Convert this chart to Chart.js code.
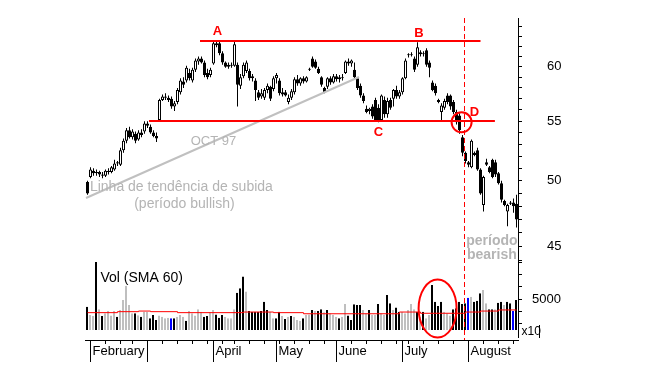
<!DOCTYPE html>
<html>
<head>
<meta charset="utf-8">
<script src="https://cdn.jsdelivr.net/npm/chart.js@4/dist/chart.umd.min.js"></script>
<style>
  html, body { margin: 0; padding: 0; background: #fff; }
  #wrap { width: 657px; height: 380px; }
</style>
</head>
<body>
<div id="wrap"><canvas id="chart" width="657" height="380"></canvas></div>
<script>
// daily prices, 30 Jan 1998 .. late Aug 1998
var opens = [49.9, 50.3, 50.8, 50.6, 50.7, 50.5, 50.4, 50.8, 50.7, 50.9,
  51.4, 51.3, 52.5, 53.3, 54.2, 53.6, 53.9, 53.4, 54.0, 54.1,
  54.8, 54.5, 54.0, 53.7, 55.1, 56.9, 57.2, 57.1, 57.0, 56.3,
  56.7, 57.6, 58.6, 58.7, 59.4, 58.7, 59.7, 60.5, 60.8, 60.4,
  59.4, 59.2, 60.3, 62.1, 62.3, 61.3, 60.4, 60.0, 60.2, 60.1,
  60.2, 58.2, 59.1, 59.6, 59.6, 58.9, 58.7, 57.6, 57.2, 57.1,
  57.8, 58.1, 57.9, 58.9, 58.7, 57.6, 57.6, 56.7, 57.1, 57.6,
  58.8, 58.4, 58.9, 58.6, 59.7, 60.8, 60.5, 59.8, 59.0, 58.0,
  58.1, 58.9, 58.5, 59.1, 58.8, 59.0, 59.4, 60.5, 60.3, 59.7,
  58.9, 58.2, 57.3, 56.1, 55.9, 56.3, 56.9, 56.2, 55.1, 56.9,
  55.6, 56.9, 57.0, 57.8, 57.2, 57.6, 58.9, 61.1, 61.2, 60.8,
  60.2, 61.4, 61.2, 61.6, 60.4, 58.5, 58.2, 56.9, 55.8, 56.2,
  57.3, 57.3, 56.7, 55.8, 55.5, 53.6, 52.3, 51.5, 51.1, 52.3,
  52.5, 50.9, 48.1, 51.5, 51.1, 51.7, 51.5, 50.6, 49.8, 48.4,
  47.6, 48.2, 48.3, 48.2];
var highs = [50.0, 51.1, 51.0, 50.9, 50.8, 50.7, 50.9, 51.0, 51.2, 51.7,
  51.6, 52.7, 53.5, 54.4, 54.5, 54.3, 54.1, 54.2, 54.3, 55.0,
  55.0, 54.7, 54.2, 54.0, 57.0, 57.4, 57.5, 57.3, 57.2, 56.8,
  58.0, 58.9, 59.0, 60.1, 59.8, 59.9, 60.8, 61.0, 61.0, 60.6,
  59.8, 59.9, 62.5, 62.6, 62.5, 61.5, 60.5, 60.4, 60.4, 62.5,
  60.4, 59.3, 60.4, 60.6, 59.8, 59.3, 58.9, 57.8, 57.9, 58.0,
  58.4, 58.2, 59.1, 59.4, 58.9, 58.0, 57.8, 57.4, 57.9, 59.0,
  59.2, 59.0, 59.1, 59.1, 59.9, 61.0, 60.7, 60.0, 59.1, 58.1,
  59.0, 59.1, 59.3, 59.3, 59.2, 59.3, 60.6, 60.8, 60.7, 60.4,
  59.0, 58.4, 57.5, 56.4, 56.2, 56.5, 57.1, 56.5, 57.4, 57.2,
  57.1, 57.1, 57.9, 58.2, 57.8, 59.0, 60.8, 61.3, 61.4, 61.0,
  62.4, 61.6, 61.5, 61.8, 60.6, 58.7, 58.4, 57.0, 56.6, 57.0,
  57.5, 57.4, 56.9, 56.0, 55.7, 53.8, 52.4, 51.6, 53.4, 52.4,
  52.7, 51.0, 50.4, 51.8, 51.2, 51.8, 51.7, 50.7, 50.0, 48.5,
  48.2, 48.4, 48.6, 48.9];
var lows = [48.9, 50.2, 50.4, 50.4, 50.3, 50.2, 50.3, 50.5, 50.6, 50.8,
  51.2, 51.2, 52.3, 53.1, 53.5, 53.4, 53.1, 53.3, 53.6, 53.9,
  54.4, 53.9, 53.6, 53.2, 55.0, 56.8, 56.9, 56.7, 56.1, 55.9,
  56.5, 57.4, 58.0, 58.5, 58.7, 58.5, 59.5, 60.2, 60.3, 59.0,
  58.8, 59.0, 60.2, 61.9, 61.1, 60.2, 59.9, 59.8, 59.9, 60.0,
  56.3, 57.9, 58.9, 59.4, 58.7, 58.6, 56.8, 56.9, 57.0, 56.9,
  57.5, 56.8, 57.7, 58.4, 57.3, 57.2, 57.2, 56.5, 56.9, 57.4,
  58.2, 58.2, 58.4, 58.5, 59.6, 59.9, 59.8, 59.3, 58.1, 57.5,
  57.9, 58.3, 58.4, 58.6, 58.5, 58.7, 59.3, 60.1, 60.0, 58.9,
  57.8, 57.1, 56.6, 55.7, 55.6, 55.2, 55.0, 54.9, 55.0, 55.3,
  55.3, 56.0, 56.3, 57.0, 57.0, 57.4, 58.8, 60.9, 61.0, 59.5,
  60.0, 61.0, 61.0, 60.0, 59.0, 57.7, 57.3, 56.6, 55.1, 56.0,
  56.5, 56.0, 55.6, 54.7, 53.9, 52.0, 51.4, 51.1, 51.0, 52.0,
  50.8, 48.9, 47.6, 51.2, 50.6, 50.2, 50.3, 49.7, 48.3, 48.0,
  46.5, 48.1, 47.5, 46.4];
var closes = [49.0, 50.9, 50.6, 50.7, 50.5, 50.4, 50.8, 50.7, 51.1, 51.4,
  51.5, 52.5, 53.3, 54.2, 53.6, 54.1, 53.3, 54.0, 53.8, 54.8,
  54.6, 54.0, 53.7, 53.5, 56.9, 57.2, 57.1, 56.9, 56.3, 56.6,
  57.8, 58.7, 58.3, 59.9, 58.9, 59.7, 60.6, 60.8, 60.4, 59.2,
  59.0, 59.7, 62.3, 62.3, 61.3, 60.4, 60.0, 60.2, 60.1, 62.2,
  58.3, 59.0, 60.2, 60.4, 58.9, 59.1, 57.8, 57.1, 57.5, 57.8,
  58.2, 57.0, 58.9, 59.2, 57.5, 57.4, 57.3, 57.1, 57.7, 58.8,
  58.4, 58.9, 58.6, 59.0, 59.8, 60.0, 59.9, 59.4, 58.3, 57.6,
  58.9, 58.5, 59.1, 58.8, 59.0, 58.9, 60.5, 60.3, 60.6, 59.0,
  58.0, 57.3, 56.8, 55.8, 56.1, 55.4, 55.1, 55.1, 57.3, 55.6,
  56.8, 56.2, 57.8, 57.2, 57.6, 58.9, 60.6, 61.2, 61.1, 59.7,
  61.9, 61.2, 61.3, 60.2, 59.9, 57.8, 57.5, 56.7, 56.4, 56.8,
  56.7, 56.3, 55.8, 54.9, 54.2, 52.3, 51.6, 51.3, 53.3, 52.1,
  50.9, 49.0, 50.3, 51.3, 50.7, 50.3, 50.5, 49.8, 48.5, 48.1,
  48.1, 48.3, 48.0, 47.0];

// volume (x10)
var volumes = [4380, 3700, 3620, 8000, 4160, 3620, 3840, 4020, 3650, 4020,
  3560, 4110, 4920, 6080, 4510, 3840, 3840, 3680, 3560, 3970,
  3970, 3430, 3700, 3290, 3650, 3560, 3430, 3480, 3430, 3430,
  3560, 3700, 3560, 3240, 4020, 3840, 3650, 4160, 3970, 3560,
  3620, 3920, 4110, 3750, 3480, 3700, 3560, 3430, 3430, 4160,
  5510, 5870, 6820, 5600, 4020, 3970, 3970, 3970, 4020, 4780,
  4110, 3970, 3430, 3430, 3970, 3620, 3370, 3560, 3620, 3560,
  3290, 3240, 3430, 3700, 3750, 4110, 4020, 4020, 4160, 3920,
  4110, 3840, 3700, 3560, 3430, 3560, 4590, 3650, 3290, 4570,
  4510, 4510, 4110, 3840, 4110, 3700, 3700, 4590, 3840, 3700,
  5330, 4650, 4110, 4300, 3970, 3970, 3840, 4110, 4590, 4160,
  3970, 3560, 3970, 3430, 3700, 6140, 4780, 4430, 4780, 3970,
  3840, 3650, 4160, 4240, 4780, 4590, 4650, 5110, 5190, 4780,
  4860, 5460, 5730, 4650, 4160, 4160, 4160, 4700, 4780, 4510,
  4780, 4650, 4020, 4920];
// k = black, g = grey, b = blue volume bar
var volTone = 'kggkgkgggg' + 'kgggggkgkg' + 'gkkkggggbk' + 'gggkgggggk' + 'kggkkkgggg' +
  'kkkgkkkkkk' + 'kggkkgkgkg' + 'ggkggkgkkg' + 'kgggkggkkk' + 'kkggkggkgg' +
  'kkgkkggggg' + 'kgkggkkkkg' + 'ggkkkkkbgk' + 'kkggkkgkkg' + 'kkbk';

// 60 day volume average, value from each listed day onward
var smaDays = [0, 10, 17, 21, 30, 52, 62, 72, 104, 111, 126, 131, 137, 143];
var smaValues = [3890, 3970, 4020, 3970, 3890, 3940, 3890, 3800, 3940, 3840, 3940, 4020, 4110, 4110];

var priceTicks = [44, 45, 46, 47, 48, 49, 50, 51, 52, 53, 54, 55, 56, 57, 58, 59, 60, 61, 62, 63, 64];
var priceLabels = [45, 50, 55, 60];
var volTicks = [3000, 4000, 5000, 6000, 7000, 8000];
var volLabels = [5000];
var monthNames = ['', 'February', '', 'April', 'May', 'June', 'July', 'August'];
var holidays = ['1998-02-16', '1998-04-10', '1998-05-25', '1998-07-03'];

var priceRange = { min: 43.91, max: 64.86 };
var volRange = { min: 2480, max: 8008 };

// trading days
var days = [];
var d = new Date(Date.UTC(1998, 0, 30));
while (days.length < closes.length) {
  var key = d.toISOString().slice(0, 10);
  var dow = d.getUTCDay();
  if (dow > 0 && dow < 6 && holidays.indexOf(key) < 0) days.push(key);
  d.setUTCDate(d.getUTCDate() + 1);
}

var tones = { k: '#000000', g: '#bfbfbf', b: '#0000ff' };
var FONT = '"Liberation Sans", Arial, sans-serif';

// annotation layer, in data units
var levels = [
  { from: 37.5, to: 131, price: 62.55 },
  { from: 20.5, to: 135.8, price: 55.0 }
];
var trend = { from: [-0.5, 48.64], to: [90.5, 59.02] };
var breakDay = 125.5;
var letters = [
  { text: 'A', day: 43.3, price: 63.5 },
  { text: 'B', day: 110.5, price: 63.27 },
  { text: 'C', day: 97, price: 54.05 },
  { text: 'D', day: 129, price: 55.77 }
];
var greyNotes = [
  { text: 'OCT 97', day: 42, price: 53.24, font: '13px ' + FONT },
  { text: 'Linha de tendência de subida', day: 31.3, price: 49.5, font: '14px ' + FONT },
  { text: '(período bullish)', day: 32.3, price: 48.18, font: '14px ' + FONT },
  { text: 'período', day: 134.8, price: 45.41, font: 'bold 14px ' + FONT },
  { text: 'bearish', day: 134.8, price: 44.37, font: 'bold 14px ' + FONT }
];

var notes = {
  id: 'notes',
  afterDatasetsDraw: function (chart) {
    var ctx = chart.ctx;
    var xs = chart.scales.x, ps = chart.scales.price, vs = chart.scales.vol;
    var area = chart.chartArea;
    var baseY = area.bottom + 10;
    ctx.save();

    // trend line
    ctx.strokeStyle = '#c0c0c0';
    ctx.lineWidth = 2;
    ctx.beginPath();
    ctx.moveTo(xs.getPixelForValue(trend.from[0]), ps.getPixelForValue(trend.from[1]));
    ctx.lineTo(xs.getPixelForValue(trend.to[0]), ps.getPixelForValue(trend.to[1]));
    ctx.stroke();

    // resistance / support
    ctx.strokeStyle = '#ff0000';
    levels.forEach(function (l) {
      var y = Math.round(ps.getPixelForValue(l.price));
      ctx.beginPath();
      ctx.moveTo(xs.getPixelForValue(l.from), y);
      ctx.lineTo(xs.getPixelForValue(l.to), y);
      ctx.stroke();
    });

    // break circle and volume ellipse
    ctx.beginPath();
    ctx.arc(xs.getPixelForValue(124.7), ps.getPixelForValue(54.9), 10, 0, Math.PI * 2);
    ctx.stroke();
    ctx.beginPath();
    ctx.ellipse(xs.getPixelForValue(116.7), vs.getPixelForValue(4230), 19, 29, 0, 0, Math.PI * 2);
    ctx.stroke();

    // dashed break day
    var bx = Math.round(xs.getPixelForValue(breakDay)) + 0.5;
    ctx.lineWidth = 1;
    ctx.setLineDash([5, 3]);
    ctx.beginPath();
    ctx.moveTo(bx, area.top);
    ctx.lineTo(bx, baseY);
    ctx.stroke();
    ctx.setLineDash([]);

    // letters
    ctx.fillStyle = '#ff0000';
    ctx.font = 'bold 13px ' + FONT;
    ctx.textAlign = 'center';
    ctx.textBaseline = 'middle';
    letters.forEach(function (n) {
      ctx.fillText(n.text, xs.getPixelForValue(n.day), ps.getPixelForValue(n.price));
    });

    ctx.fillStyle = '#b4b4b4';
    greyNotes.forEach(function (n) {
      ctx.font = n.font;
      ctx.fillText(n.text, xs.getPixelForValue(n.day), ps.getPixelForValue(n.price));
    });

    ctx.fillStyle = '#000';
    ctx.font = '14px ' + FONT;
    ctx.textAlign = 'left';
    ctx.fillText('Vol (SMA 60)', xs.getPixelForValue(4.3), vs.getPixelForValue(6710));

    // time axis
    ctx.strokeStyle = '#000';
    ctx.lineWidth = 1;
    ctx.beginPath();
    ctx.moveTo(area.left - 1, baseY + 0.5);
    ctx.lineTo(area.right + 1, baseY + 0.5);
    ctx.stroke();
    ctx.font = '13px ' + FONT;
    ctx.textBaseline = 'alphabetic';
    for (var i = 1; i < days.length; i++) {
      var cur = new Date(days[i] + 'T00:00:00Z');
      var prev = new Date(days[i - 1] + 'T00:00:00Z');
      var x = Math.floor(xs.getPixelForValue(i)) + 0.5;
      var m = cur.getUTCMonth();
      if (m !== prev.getUTCMonth()) {
        ctx.beginPath();
        ctx.moveTo(x, baseY);
        ctx.lineTo(x, baseY + 22);
        ctx.stroke();
        if (monthNames[m]) ctx.fillText(monthNames[m], x + 2, baseY + 15);
      } else if (cur.getUTCDay() < prev.getUTCDay()) {
        ctx.beginPath();
        ctx.moveTo(x, baseY);
        ctx.lineTo(x, baseY + 4);
        ctx.stroke();
      }
    }

    // x10 box under the volume axis
    var rx = Math.round(area.right) + 0.5;
    ctx.beginPath();
    ctx.moveTo(rx, area.bottom - 5);
    ctx.lineTo(rx, baseY - 2);
    ctx.moveTo(rx + 21, area.bottom - 5);
    ctx.lineTo(rx + 21, baseY - 2);
    ctx.stroke();
    ctx.font = '12px ' + FONT;
    ctx.fillText('x10', rx + 3, area.bottom + 5);

    ctx.restore();
  }
};

// the stacked right axes must not push the plot down with their label padding
function fixAxisBox(s) {
  s.width = 60;
  s.paddingTop = 0;
  s.paddingBottom = 0;
}

new Chart(document.getElementById('chart').getContext('2d'), {
  type: 'bar',
  data: {
    labels: days,
    datasets: [{
      label: 'wick',
      data: days.map(function (_, i) { return [lows[i], highs[i]]; }),
      yAxisID: 'price',
      backgroundColor: '#000',
      barThickness: 1,
      borderWidth: 0,
      inflateAmount: 0,
      grouped: false,
      order: 3
    }, {
      label: 'body',
      data: days.map(function (_, i) { return [opens[i], closes[i]]; }),
      yAxisID: 'price',
      backgroundColor: days.map(function (_, i) { return closes[i] >= opens[i] ? '#ffffff' : '#000000'; }),
      borderColor: '#000',
      borderWidth: 1,
      borderSkipped: false,
      barThickness: 3,
      minBarLength: 1,
      inflateAmount: 0,
      grouped: false,
      order: 2
    }, {
      label: 'Vol',
      data: volumes,
      yAxisID: 'vol',
      base: volRange.min,
      backgroundColor: volumes.map(function (_, i) { return tones[volTone.charAt(i)]; }),
      borderColor: '#fff',
      borderWidth: { left: 0, right: 1, top: 0, bottom: 0 },
      borderSkipped: false,
      barThickness: 3,
      inflateAmount: 0,
      grouped: false,
      order: 2
    }, {
      type: 'line',
      label: 'SMA 60',
      data: smaDays.map(function (day, k) { return { x: days[day], y: smaValues[k] }; }),
      yAxisID: 'vol',
      borderColor: '#ff0000',
      borderWidth: 1,
      pointRadius: 0,
      stepped: true,
      fill: false,
      order: 1
    }]
  },
  options: {
    responsive: false,
    animation: false,
    events: [],
    devicePixelRatio: 1,
    layout: { padding: { left: 86, right: 79, top: 18, bottom: 50 } },
    plugins: { legend: { display: false }, tooltip: { enabled: false } },
    scales: {
      x: { type: 'category', offset: true, display: false },
      price: {
        type: 'logarithmic',
        position: 'right',
        stack: 'right',
        stackWeight: 244,
        weight: 0,
        min: priceRange.min,
        max: priceRange.max,
        bounds: 'data',
        afterBuildTicks: function (s) { s.ticks = priceTicks.map(function (v) { return { value: v }; }); },
        afterFit: fixAxisBox,
        border: { display: true, color: '#000', width: 1 },
        grid: { drawOnChartArea: false, color: '#000', tickLength: 4 },
        ticks: {
          autoSkip: false,
          crossAlign: 'near',
          padding: 25,
          color: '#000',
          font: { family: FONT, size: 13 },
          callback: function (v) { return priceLabels.indexOf(v) >= 0 ? String(v) : ''; }
        }
      },
      vol: {
        type: 'linear',
        position: 'right',
        stack: 'right',
        stackWeight: 68,
        weight: 1,
        min: volRange.min,
        max: volRange.max,
        bounds: 'data',
        afterBuildTicks: function (s) { s.ticks = volTicks.map(function (v) { return { value: v }; }); },
        afterFit: fixAxisBox,
        border: { display: true, color: '#000', width: 1 },
        grid: { drawOnChartArea: false, color: '#000', tickLength: 4 },
        ticks: {
          autoSkip: false,
          crossAlign: 'near',
          padding: 10,
          color: '#000',
          font: { family: FONT, size: 13 },
          callback: function (v) { return volLabels.indexOf(v) >= 0 ? String(v) : ''; }
        }
      }
    }
  },
  plugins: [notes]
});
</script>
</body>
</html>
